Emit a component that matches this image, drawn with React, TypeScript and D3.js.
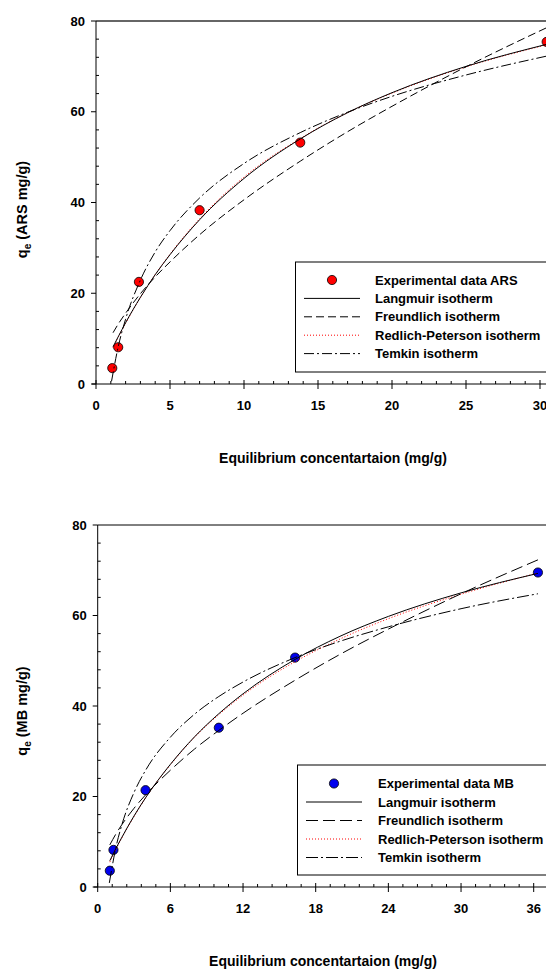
import React from 'react';
import * as d3 from 'd3';

// ARS experimental points
const arsCe = [1.1, 1.5, 2.9, 7.0, 13.8, 30.45];
const arsQe = [3.5, 8.1, 22.5, 38.3, 53.2, 75.4];

// ARS fitted isotherms
const arsFitCe = [1.15, 1.5, 2, 3, 4, 5, 7, 10, 13.8, 17, 20, 25, 30.5];
const arsLangmuir = [8.2, 10.4, 13.5, 19.1, 24.1, 28.5, 36.2, 45.3, 54.0, 59.8, 64.2, 70.0, 74.9];
const arsRedlich = [8.0, 10.3, 13.4, 19.0, 24.1, 28.6, 36.4, 45.6, 54.1, 59.8, 64.1, 69.9, 74.8];
const arsFreundlich = [11.3, 13.2, 15.6, 19.9, 23.6, 26.9, 32.9, 40.6, 49.1, 55.6, 61.2, 69.9, 78.6];
const arsTemkinCe = [1.05, 1.5, 2, 3, 4, 5, 7, 10, 13.8, 17, 20, 25, 30.5];
const arsTemkin = [0.6, 8.2, 14.3, 22.9, 29.1, 33.8, 41.0, 48.6, 55.4, 59.9, 63.4, 68.1, 72.3];

// MB experimental points
const mbCe = [1.0, 1.3, 3.95, 10.0, 16.3, 36.35];
const mbQe = [3.6, 8.2, 21.4, 35.2, 50.7, 69.5];

// MB fitted isotherms
const mbFitCe = [1.0, 1.5, 2, 3, 4, 6, 8, 10, 12, 16.3, 20, 24, 30, 36.35];
const mbLangmuir = [5.8, 8.5, 11.0, 15.7, 19.9, 27.1, 33.2, 38.3, 42.7, 50.3, 55.4, 59.8, 65.0, 69.3];
const mbRedlich = [5.5, 8.3, 10.9, 15.6, 19.9, 27.0, 33.1, 38.1, 42.4, 49.8, 54.8, 59.3, 64.7, 69.4];
const mbFreundlich = [9.3, 11.7, 13.8, 17.4, 20.5, 25.8, 30.5, 34.6, 38.4, 45.7, 51.4, 57.0, 64.8, 72.3];
const mbTemkinCe = [0.96, 1.5, 2, 3, 4, 6, 8, 10, 12, 16.3, 20, 24, 30, 36.35];
const mbTemkin = [0.9, 8.7, 13.8, 20.9, 26.0, 33.1, 38.2, 42.1, 45.3, 50.7, 54.3, 57.5, 61.5, 64.8];

const arsXTicks = [0, 5, 10, 15, 20, 25, 30];
const mbXTicks = [0, 6, 12, 18, 24, 30, 36];
const yTicks = [0, 20, 40, 60, 80];

const legendNames = ['Langmuir isotherm', 'Freundlich isotherm', 'Redlich-Peterson isotherm', 'Temkin isotherm'];

const FONT = 'Arial, "Liberation Sans", sans-serif';

function Chart({ top, xMax, xRange, yRange, xTicks, minorStep, ce, qe, fits, color, pointLabel, yLabel, legend, dashes, yTitleShift }) {
  const x = d3.scaleLinear().domain([0, xMax]).range(xRange);
  const y = d3.scaleLinear().domain([0, 80]).range(yRange);
  const line = d3.line().x(d => x(d[0])).y(d => y(d[1])).curve(d3.curveMonotoneX);

  const minorX = d3.range(0, xMax + minorStep * 2, minorStep).filter(v => xTicks.every(t => Math.abs(t - v) > 1e-6));
  const minorY = d3.range(0, 80, 4).filter(v => v % 20 !== 0);

  const styles = [
    { stroke: '#000', dash: null },
    { stroke: '#000', dash: dashes.freundlich },
    { stroke: '#ff0000', dash: '1,2' },
    { stroke: '#000', dash: dashes.temkin },
  ];
  // red dotted goes underneath the solid Langmuir curve
  const drawOrder = [2, 1, 3, 0];
  const x0 = x(0);
  const y0 = y(0);
  const rowH = legend.rowH;

  return (
    <g>
      {/* frame */}
      <line x1={x0} x2={560} y1={y(80)} y2={y(80)} stroke={top ? '#333' : '#000'} strokeWidth={top ? 1.3 : 1} />
      <line x1={x0} x2={x0} y1={y0} y2={y(80)} stroke="#000" />
      <line x1={x0 - 4} x2={560} y1={y0} y2={y0} stroke="#000" />
      {xTicks.map(t => (
        <g key={'xt' + t}>
          <line x1={x(t)} x2={x(t)} y1={y0 - 4} y2={y0 + 5} stroke="#000" />
          <text x={x(t)} y={y0 + 26} textAnchor="middle" fontFamily={FONT} fontWeight="bold" fontSize={13}>{t}</text>
        </g>
      ))}
      {minorX.map(t => (
        <line key={'xm' + t} x1={x(t)} x2={x(t)} y1={y0 - 3} y2={y0} stroke="#000" />
      ))}
      {yTicks.map(t => (
        <g key={'yt' + t}>
          <line x1={x0 - 5} x2={x0} y1={y(t)} y2={y(t)} stroke="#000" />
          <text x={x0 - 11} y={y(t) + 4.5} textAnchor="end" fontFamily={FONT} fontWeight="bold" fontSize={13}>{t}</text>
        </g>
      ))}
      {minorY.map(t => (
        <line key={'ym' + t} x1={x0} x2={x0 + 3} y1={y(t)} y2={y(t)} stroke="#000" />
      ))}

      {/* data */}
      {ce.map((c, i) => (
        <circle key={'p' + i} cx={x(c)} cy={y(qe[i])} r={4.6} fill={color} stroke="#000" strokeWidth={0.8} />
      ))}
      {drawOrder.map(i => {
        const f = fits[i];
        return (
          <path key={'f' + i} d={line(f.ce.map((c, j) => [c, f.q[j]]))} fill="none"
            stroke={styles[i].stroke} strokeWidth={1} strokeDasharray={styles[i].dash || undefined} />
        );
      })}

      {/* legend */}
      <rect x={legend.x} y={legend.y} width={300} height={legend.h} fill="#fff" stroke="#000" strokeWidth={1} />
      <circle cx={legend.markX} cy={legend.y + legend.first} r={4.6} fill={color} stroke="#000" strokeWidth={0.8} />
      <text x={legend.textX} y={legend.y + legend.first + 4.5} fontFamily={FONT} fontWeight="bold" fontSize={13}>{pointLabel}</text>
      {legendNames.map((n, i) => {
        const ly = legend.y + legend.first + rowH * (i + 1);
        return (
          <g key={'l' + i}>
            <line x1={legend.lineX1} x2={legend.lineX2} y1={ly} y2={ly} stroke={styles[i].stroke} strokeWidth={1}
              strokeDasharray={styles[i].dash || undefined} />
            <text x={legend.textX} y={ly + 4.5} fontFamily={FONT} fontWeight="bold" fontSize={13}>{n}</text>
          </g>
        );
      })}

      {/* titles */}
      <text x={legend.titleX} y={y0 + 79} textAnchor="middle" fontFamily={FONT} fontWeight="bold" fontSize={14}>
        Equilibrium concentartaion (mg/g)
      </text>
      <text transform={`translate(27,${(y0 + y(80)) / 2 + yTitleShift}) rotate(-90)`} textAnchor="middle" fontFamily={FONT} fontWeight="bold" fontSize={14.5}>
        q<tspan fontSize={10} dy={4}>e</tspan><tspan dy={-4}> ({yLabel} mg/g)</tspan>
      </text>
    </g>
  );
}

export default function App() {
  return (
    <svg width={546} height={972} style={{ position: 'absolute', left: 0, top: 0, background: '#fff' }}>
      <rect width={546} height={972} fill="#fff" />
      <Chart
        top
        xMax={30}
        xRange={[96, 540]}
        yRange={[384, 21]}
        xTicks={arsXTicks}
        minorStep={1}
        ce={arsCe}
        qe={arsQe}
        fits={[
          { ce: arsFitCe, q: arsLangmuir },
          { ce: arsFitCe, q: arsFreundlich },
          { ce: arsFitCe, q: arsRedlich },
          { ce: arsTemkinCe, q: arsTemkin },
        ]}
        color="#ff0000"
        pointLabel="Experimental data ARS"
        yLabel="ARS"
        yTitleShift={7}
        dashes={{ freundlich: '8,4', temkin: '10,3,2,3' }}
        legend={{ x: 295.5, y: 262, h: 110, first: 18, rowH: 18.4, markX: 332, lineX1: 304, lineX2: 360, textX: 375, titleX: 333 }}
      />
      <Chart
        top={false}
        xMax={36}
        xRange={[97.7, 533.7]}
        yRange={[887, 525]}
        xTicks={mbXTicks}
        minorStep={1.2}
        ce={mbCe}
        qe={mbQe}
        fits={[
          { ce: mbFitCe, q: mbLangmuir },
          { ce: mbFitCe, q: mbFreundlich },
          { ce: mbFitCe, q: mbRedlich },
          { ce: mbTemkinCe, q: mbTemkin },
        ]}
        color="#0000ee"
        pointLabel="Experimental data MB"
        yLabel="MB"
        yTitleShift={5}
        dashes={{ freundlich: '12,5', temkin: '12,3,2,3' }}
        legend={{ x: 297.5, y: 765, h: 110, first: 18.5, rowH: 18.5, markX: 334, lineX1: 306, lineX2: 362, textX: 378, titleX: 323 }}
      />
    </svg>
  );
}
